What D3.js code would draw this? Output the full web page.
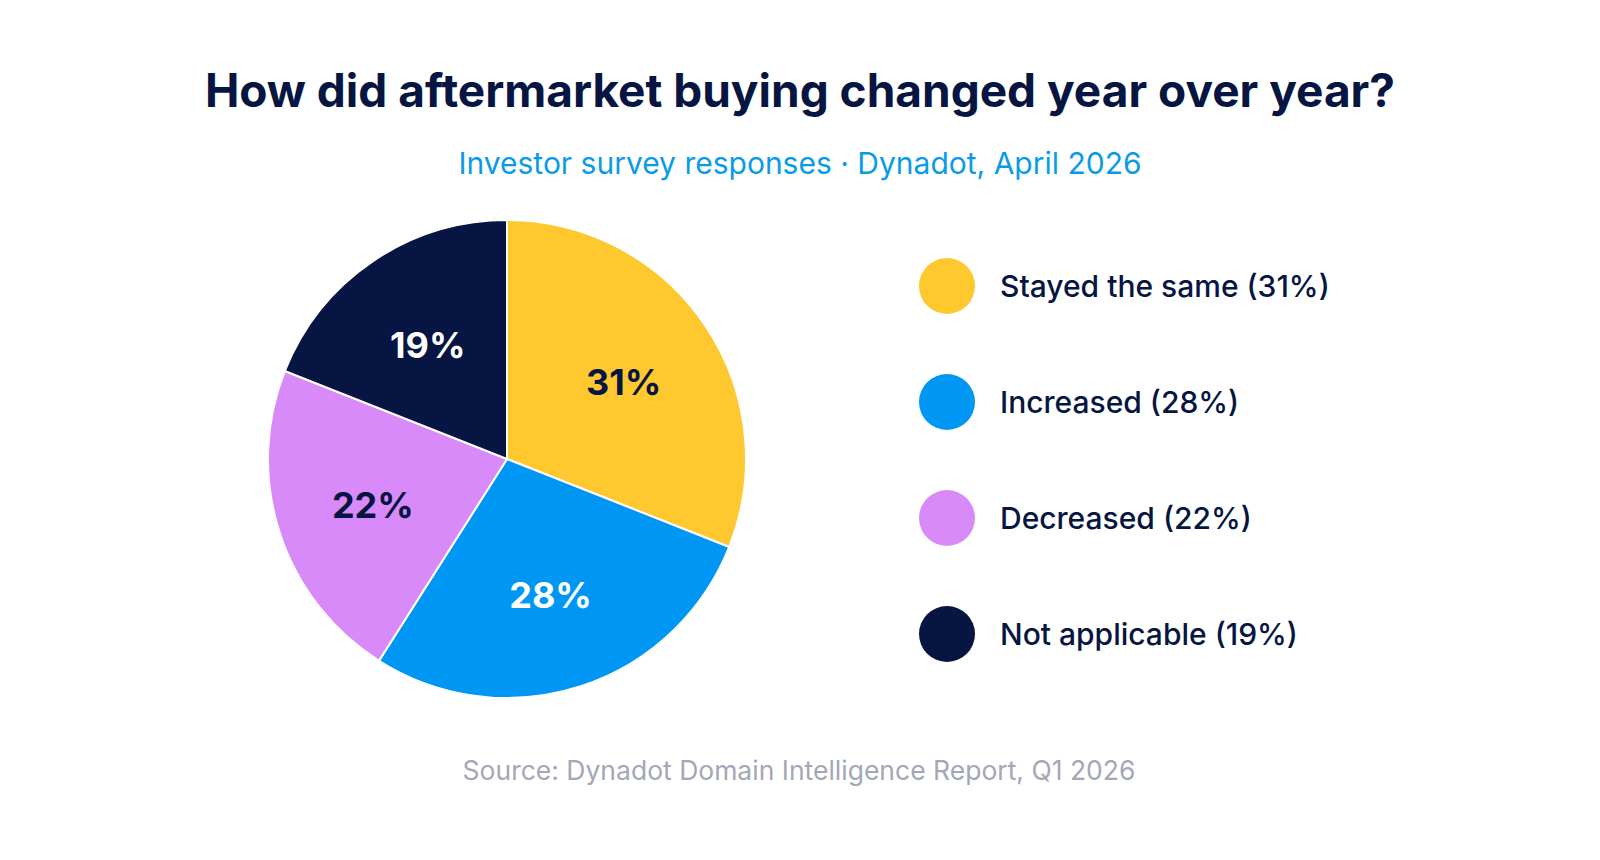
<!DOCTYPE html>
<html lang="en">
<head>
<meta charset="utf-8">
<script src="https://d3js.org/d3.v7.min.js"></script>
<style>
  body { margin:0; background:#fff; }
  svg text { font-family: Inter, "Liberation Sans", sans-serif; }
</style>
</head>
<body>
<div id="chart"></div>

<script>
  var categories = ["Stayed the same", "Increased", "Decreased", "Not applicable"]
  var values = [31, 28, 22, 19]
  var colors = ["#FEC82E", "#0097F4", "#D98AF9", "#061541"]
  var labelColors = ["#061541", "#ffffff", "#061541", "#ffffff"]

  var data = categories.map(function(c, i) {
    return {name: c, value: values[i], color: colors[i], lc: labelColors[i]}
  })

  var width = 1600, height = 860
  var cx = 507, cy = 459, radius = 239

  var svg = d3.select('#chart').append('svg')
      .attr('width', width)
      .attr('height', height)

  // title + subtitle
  svg.append('text')
      .attr('x', 800).attr('y', 107)
      .attr('text-anchor', 'middle')
      .attr('font-size', 46)
      .attr('font-weight', 700)
      .attr('fill', '#061541')
      .text('How did aftermarket buying changed year over year?')

  svg.append('text')
      .attr('x', 800).attr('y', 174)
      .attr('text-anchor', 'middle')
      .attr('font-size', 30)
      .attr('fill', '#0A9BE8')
      .text('Investor survey responses · Dynadot, April 2026')

  var pie = d3.pie()
      .value(function(d) { return d.value })
      .sort(null)

  var arc = d3.arc().innerRadius(0).outerRadius(radius)
  var labelArc = d3.arc().innerRadius(141).outerRadius(141)

  var g = svg.append('g')
      .attr('transform', 'translate(' + cx + ',' + cy + ')')

  var slices = g.selectAll('g.slice')
      .data(pie(data))
      .enter()
      .append('g')
      .attr('class', 'slice')

  slices.append('path')
      .attr('d', arc)
      .attr('fill', function(d) { return d.data.color })
      .attr('stroke', '#fff')
      .attr('stroke-width', 2)

  slices.append('text')
      .attr('transform', function(d) { return 'translate(' + labelArc.centroid(d) + ')' })
      .attr('text-anchor', 'middle')
      .attr('dy', '0.42em')
      .attr('font-size', 36)
      .attr('font-weight', 700)
      .attr('fill', function(d) { return d.data.lc })
      .text(function(d) { return d.data.value + '%' })

  // legend
  var legend = svg.append('g')
      .attr('transform', 'translate(947,286)')

  var item = legend.selectAll('g')
      .data(data)
      .enter()
      .append('g')
      .attr('transform', function(d, i) { return 'translate(0,' + (i * 116) + ')' })

  item.append('circle')
      .attr('r', 28)
      .attr('fill', function(d) { return d.color })

  item.append('text')
      .attr('x', 53)
      .attr('dy', '0.35em')
      .attr('font-size', 30)
      .attr('font-weight', 500)
      .attr('fill', '#061541')
      .text(function(d) { return d.name + ' (' + d.value + '%)' })

  svg.append('text')
      .attr('x', 799).attr('y', 780)
      .attr('text-anchor', 'middle')
      .attr('font-size', 26.5)
      .attr('fill', '#A3A7B8')
      .text('Source: Dynadot Domain Intelligence Report, Q1 2026')
</script>
</body>
</html>
